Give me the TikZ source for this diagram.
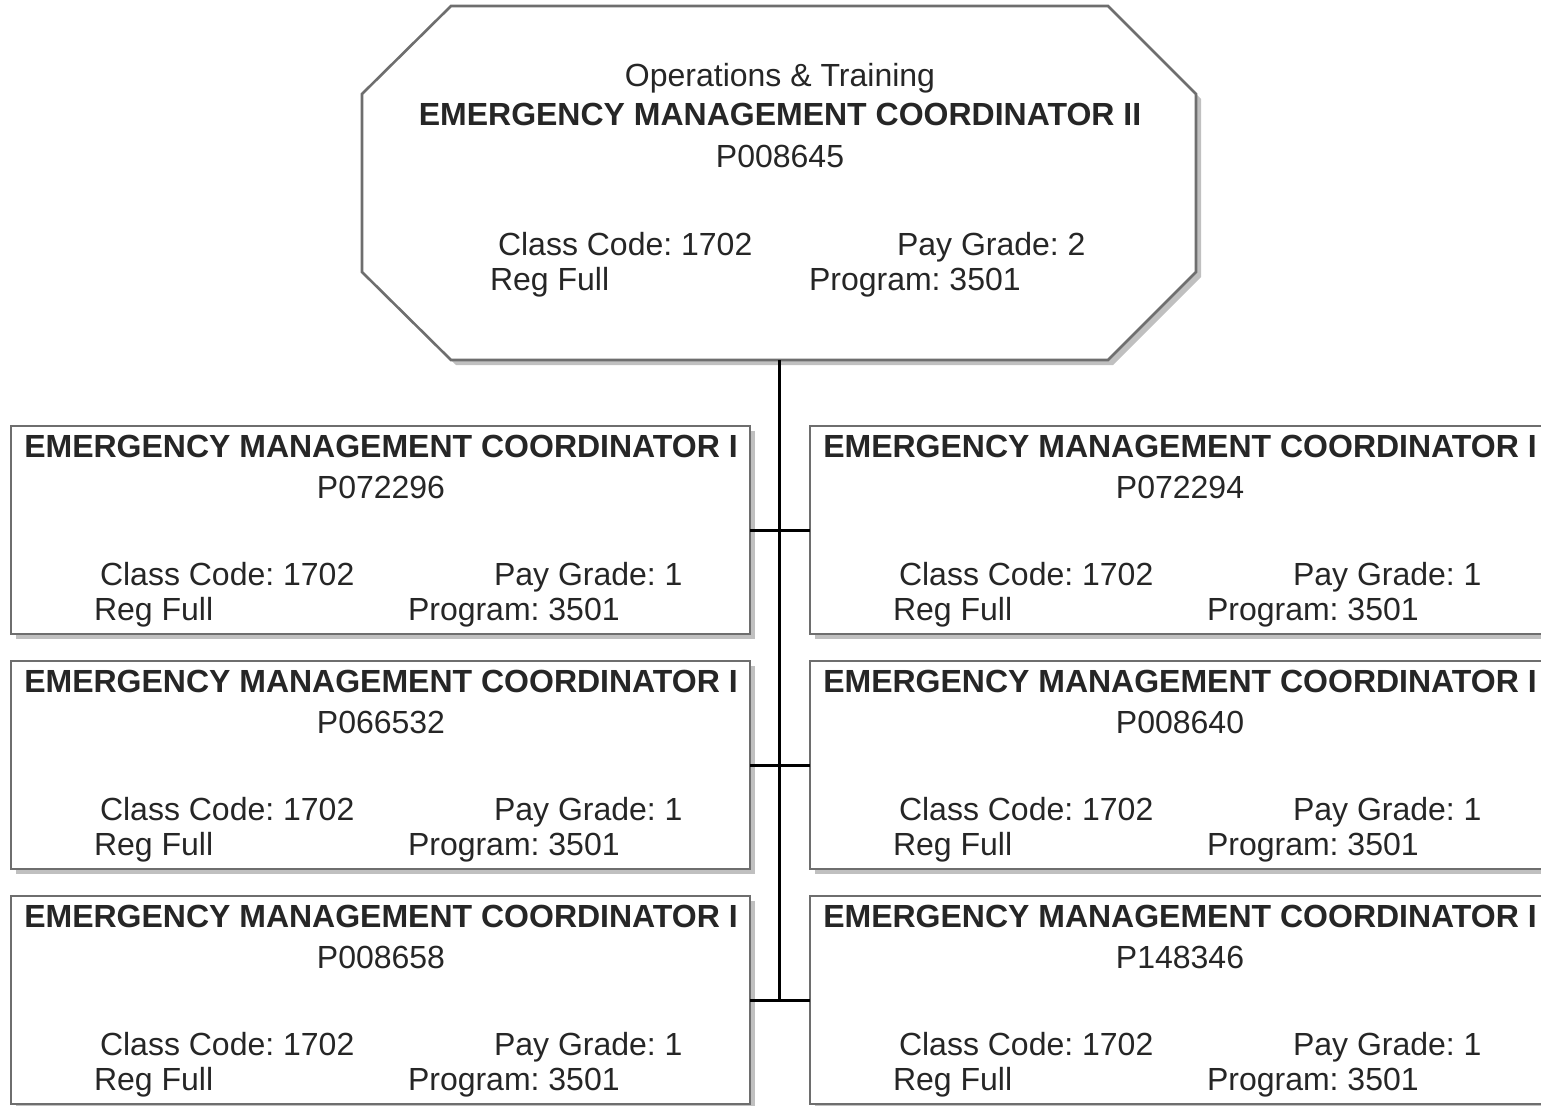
\documentclass[tikz,border=0pt]{standalone}
\usepackage{fontspec}
\setmainfont{Liberation Sans}
\frenchspacing
\begin{document}
\begin{tikzpicture}[x=1pt,y=-1pt,
  every node/.style={inner sep=0pt, outer sep=0pt, text=txt, font=\fontsize{32}{38}\selectfont\frenchspacing},
  boxline/.style={draw=frame, line width=2.6pt, fill=white},
  shade/.style={fill=shadowgray, draw=none},
  link/.style={draw=black, line width=3pt},
  title/.style={anchor=base, font=\fontsize{32}{38}\selectfont\bfseries},
  lbl/.style={anchor=base west}]
\definecolor{frame}{HTML}{6E6E6E}
\definecolor{shadowgray}{HTML}{C0C0C0}
\definecolor{txt}{HTML}{262626}
\clip (0,0) rectangle (1541,1105);
\useasboundingbox (0,0) rectangle (1541,1105);

% Head position: octagon with drop shadow
\fill[shade] (456,11) -- (1113,11) -- (1201,99) -- (1201,277) -- (1113,365) -- (456,365) -- (367,277) -- (367,99) -- cycle;
\path[boxline] (451,6) -- (1108,6) -- (1196,94) -- (1196,272) -- (1108,360) -- (451,360) -- (362,272) -- (362,94) -- cycle;
\coordinate (head) at (779,360);
\node[anchor=base] (h1) at (780,87) {Operations \& Training};
\node[title] (h2) at (780,126) {EMERGENCY MANAGEMENT COORDINATOR II};
\node[anchor=base] (h3) at (780,167) {P008645};
\node[lbl] (h4) at (498,255) {Class Code: 1702};
\node[lbl] (h5) at (897,255) {Pay Grade: 2};
\node[lbl] (h6) at (490,290) {Reg Full};
\node[lbl] (h7) at (809,290) {Program: 3501};

% Subordinate positions: \posbox{name}{left x}{top y}{position number}
\newcommand{\posbox}[4]{%
  \fill[shade] (#2+5,#3+5) rectangle (#2+744,#3+213);
  \path[boxline] (#2,#3) rectangle (#2+739,#3+208);
  \coordinate (#1) at (#2,#3+104);
  \coordinate (#1-r) at (#2+739,#3+104);
  \node[title] (#1-t) at (#2+370,#3+31) {EMERGENCY MANAGEMENT COORDINATOR I};
  \node[anchor=base] (#1-p) at (#2+370,#3+72) {#4};
  \node[lbl] (#1-c) at (#2+89,#3+159) {Class Code: 1702};
  \node[lbl] (#1-g) at (#2+483,#3+159) {Pay Grade: 1};
  \node[lbl] (#1-f) at (#2+83,#3+194) {Reg Full};
  \node[lbl] (#1-m) at (#2+397,#3+194) {Program: 3501};
}
\posbox{la}{11}{426}{P072296}
\posbox{lb}{11}{661}{P066532}
\posbox{lc}{11}{896}{P008658}
\posbox{ra}{810}{426}{P072294}
\posbox{rb}{810}{661}{P008640}
\posbox{rc}{810}{896}{P148346}

% Connectors
\coordinate (spine) at (779,1000);
\draw[link] (head) -- (spine);
\draw[link] (la-r) -- (ra);
\draw[link] (lb-r) -- (rb);
\draw[link] (lc-r) -- (rc);
\end{tikzpicture}
\end{document}
